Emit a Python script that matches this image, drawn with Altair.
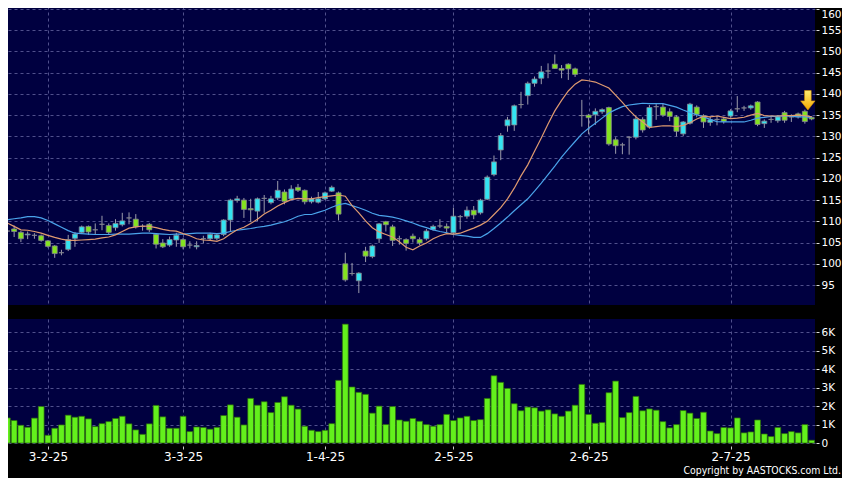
import altair as alt
import pandas as pd

# ---------------- data ----------------
opens = [
    107.7, 108.2, 107.4, 106.8, 106.7, 106.6, 105.4, 104.2, 102.6, 103.4,
    106.0, 107.4, 108.8, 108.0, 109.3, 109.0, 108.5, 109.2, 110.8, 110.5,
    108.8, 109.3, 106.9, 104.9, 104.4, 105.6, 105.7, 104.4, 104.0, 105.9,
    105.9, 106.0, 106.9, 110.3, 114.9, 115.0, 113.0, 112.4, 115.4, 114.4,
    115.5, 116.9, 115.3, 118.0, 117.3, 114.6, 114.5, 115.3, 117.1, 116.7,
    100.0, 97.7, 96.0, 103.0, 101.7, 105.9, 109.9, 108.7, 105.9, 105.7,
    106.5, 105.7, 105.9, 108.1, 108.9, 108.8, 107.3, 111.1, 111.2, 112.6,
    112.0, 115.2, 121.0, 126.8, 132.5, 132.7, 137.5, 139.6, 142.5, 143.7,
    145.4, 147.0, 146.0, 147.0, 145.9, 134.9, 135.0, 135.1, 135.8, 136.8,
    129.2, 128.0, 129.8, 129.8, 134.0, 132.2, 137.0, 136.9, 135.8, 134.6,
    130.6, 133.1, 136.9, 134.9, 133.3, 134.0, 134.1, 134.8, 136.5, 136.7,
    136.7, 138.1, 133.0, 134.0, 133.7, 135.6, 134.6, 135.3, 135.9, 134.5,
]
highs = [
    108.9, 109.0, 107.7, 107.6, 107.2, 106.9, 105.6, 104.4, 103.3, 106.8,
    107.5, 109.0, 109.0, 109.5, 111.3, 109.5, 110.5, 112.0, 112.1, 111.7,
    109.3, 109.6, 107.2, 105.8, 106.4, 107.3, 106.1, 105.3, 105.3, 106.6,
    107.3, 107.0, 110.5, 115.3, 116.0, 115.5, 115.3, 115.6, 116.2, 116.0,
    119.5, 117.5, 118.5, 118.8, 117.5, 115.8, 116.9, 117.0, 118.4, 117.0,
    102.6, 100.2, 98.0, 104.0, 104.5, 109.6, 110.1, 109.2, 106.6, 106.0,
    107.1, 106.2, 108.2, 109.2, 110.5, 109.5, 113.2, 111.5, 113.5, 113.6,
    115.3, 120.8, 125.5, 130.8, 134.6, 137.5, 140.5, 142.9, 144.1, 146.6,
    147.2, 149.3, 146.8, 147.2, 146.2, 138.6, 135.3, 136.6, 136.6, 137.0,
    129.8, 128.5, 130.0, 135.0, 134.5, 137.4, 137.6, 137.7, 136.6, 135.0,
    133.6, 137.9, 137.3, 135.2, 134.7, 134.8, 134.6, 136.4, 139.5, 137.2,
    137.5, 138.3, 134.0, 134.6, 135.0, 136.0, 135.2, 135.6, 136.3, 134.8,
]
lows = [
    106.3, 106.3, 105.1, 105.8, 105.9, 105.2, 103.8, 101.4, 102.0, 103.0,
    104.0, 107.0, 106.8, 106.9, 107.9, 107.0, 107.8, 108.8, 109.3, 108.3,
    107.8, 107.5, 103.6, 103.7, 104.0, 104.0, 103.4, 103.6, 103.4, 104.8,
    105.5, 105.5, 106.5, 107.7, 114.4, 110.8, 109.8, 110.0, 112.0, 114.0,
    115.0, 114.0, 115.0, 116.9, 114.0, 114.2, 114.2, 115.0, 116.9, 110.2,
    95.8, 97.2, 93.1, 100.4, 101.3, 104.9, 107.6, 104.2, 104.5, 103.1,
    105.0, 104.4, 105.5, 107.8, 108.4, 107.3, 107.0, 108.1, 110.6, 110.5,
    111.6, 115.0, 120.6, 124.4, 131.1, 131.3, 136.6, 137.5, 141.7, 142.3,
    143.7, 145.9, 143.7, 143.3, 144.0, 132.3, 130.5, 132.7, 135.3, 127.8,
    125.9, 125.8, 125.7, 129.3, 130.9, 131.8, 133.9, 134.6, 133.6, 130.0,
    130.1, 132.8, 134.5, 132.0, 132.5, 132.6, 133.0, 134.4, 135.7, 136.0,
    136.3, 132.4, 132.0, 133.2, 133.2, 133.2, 133.4, 134.2, 133.0, 133.8,
]
closes = [
    107.7, 107.6, 105.9, 107.0, 106.7, 105.5, 104.1, 102.4, 102.6, 105.7,
    107.0, 108.7, 107.5, 108.0, 109.3, 107.4, 109.5, 110.1, 110.8, 108.7,
    108.8, 108.0, 104.6, 104.0, 105.7, 106.7, 104.0, 104.4, 104.3, 105.9,
    106.9, 106.8, 110.3, 115.0, 115.3, 112.8, 112.7, 115.3, 115.4, 115.3,
    117.3, 114.7, 117.6, 117.3, 114.6, 115.3, 115.3, 116.7, 118.0, 111.7,
    96.2, 97.7, 97.8, 101.8, 104.2, 109.4, 109.2, 105.5, 105.9, 104.8,
    105.9, 104.9, 107.7, 108.8, 108.9, 108.4, 111.2, 111.1, 112.6, 111.5,
    115.0, 120.4, 124.0, 130.2, 133.9, 137.2, 137.5, 142.5, 143.5, 145.2,
    145.4, 146.0, 145.6, 145.9, 144.6, 134.9, 134.4, 135.9, 136.3, 128.2,
    127.8, 128.0, 129.8, 134.1, 131.5, 136.8, 137.0, 135.0, 134.7, 131.2,
    133.4, 137.6, 135.2, 133.4, 133.9, 134.0, 133.5, 136.0, 136.5, 136.7,
    137.2, 132.8, 133.6, 134.0, 134.6, 133.8, 134.6, 134.6, 133.5, 134.1,
]
volumes = [  # thousands
    1.36, 1.22, 0.96, 0.85, 1.35, 1.98, 0.42, 0.80, 0.98, 1.51,
    1.40, 1.45, 1.31, 0.89, 1.05, 1.16, 1.33, 1.45, 1.04, 0.71,
    0.47, 1.04, 2.04, 1.42, 0.80, 0.80, 1.45, 0.62, 0.87, 0.84,
    0.75, 0.85, 1.49, 2.07, 1.40, 0.98, 2.42, 2.05, 2.24, 1.65,
    2.20, 2.51, 2.05, 1.84, 0.91, 0.69, 0.62, 0.69, 1.05, 3.40,
    6.45, 3.04, 2.75, 2.64, 1.62, 2.00, 1.00, 1.98, 1.25, 1.18,
    1.33, 1.18, 1.00, 0.91, 1.00, 1.55, 1.22, 1.36, 1.45, 1.22,
    1.27, 2.42, 3.65, 3.29, 2.96, 2.13, 1.75, 1.95, 1.91, 1.73,
    1.80, 1.58, 1.45, 1.73, 2.05, 3.18, 1.55, 1.07, 1.11, 2.73,
    3.36, 1.38, 1.65, 2.53, 1.75, 1.85, 1.78, 1.16, 0.82, 1.00,
    1.76, 1.62, 1.33, 1.67, 0.65, 0.51, 0.84, 0.82, 1.36, 0.55,
    0.60, 1.25, 0.49, 0.35, 0.84, 0.51, 0.62, 0.55, 1.00, 0.15,
]
ma_fast = [  # orange line
    109.6, 108.8, 108.0, 107.9, 107.6, 107.2, 106.7, 106.2, 105.8, 105.5,
    105.5, 105.6, 105.7, 105.8, 106.1, 106.3, 106.8, 107.6, 108.4, 108.7,
    108.9, 108.8, 108.5, 108.1, 107.8, 107.7, 107.1, 106.6, 105.9, 105.6,
    105.5, 105.3, 105.9, 107.0, 108.0, 108.6, 109.5, 110.5, 111.7, 112.6,
    113.6, 114.4, 115.1, 115.4, 115.3, 115.3, 115.6, 115.8, 116.0, 116.2,
    115.9, 113.7, 112.0, 110.1, 108.5, 107.5, 106.9, 106.3, 105.2, 103.9,
    103.3, 104.2, 104.9, 105.9, 106.6, 107.1, 107.0, 107.2, 107.8, 108.4,
    109.1, 110.0, 111.6, 113.2, 115.3, 117.8, 120.7, 123.3, 126.5, 129.6,
    132.9, 136.0, 138.5, 140.7, 142.3, 143.3, 143.1, 142.8, 142.1, 141.4,
    139.7, 138.0, 136.2, 134.6, 133.4, 132.1, 132.3, 132.5, 132.5, 132.3,
    132.6, 133.2, 134.1, 134.7, 134.6, 134.8, 134.5, 134.2, 134.3, 134.5,
    135.0, 135.4, 134.9, 134.8, 134.8, 134.9, 134.9, 135.0, 134.9, 134.6,
]
ma_slow = [  # blue line
    110.4, 110.6, 110.8, 111.1, 111.1, 110.8, 110.2, 109.4, 108.6, 107.8,
    107.2, 107.1, 107.0, 106.9, 106.9, 106.9, 107.0, 107.0, 107.0, 107.1,
    107.2, 107.2, 107.1, 107.0, 106.9, 107.0, 107.0, 107.1, 107.2, 107.2,
    107.2, 107.1, 107.2, 107.6, 107.9, 108.1, 108.3, 108.6, 108.8, 109.1,
    109.5, 109.9, 110.5, 111.2, 111.6, 111.6, 112.1, 112.6, 113.3, 113.9,
    114.2, 113.7, 113.2, 112.6, 111.9, 111.4, 111.2, 111.0, 110.6, 110.1,
    109.6, 109.0, 108.5, 108.0, 107.6, 107.3, 106.9, 106.7, 106.5, 106.2,
    106.2, 107.1, 108.3, 109.6, 111.0, 112.5, 113.9, 115.3, 117.1, 119.0,
    121.0, 123.0, 125.1, 127.0, 128.8, 130.6, 131.9, 133.1, 134.3, 135.5,
    136.3, 137.0, 137.4, 137.6, 137.8, 137.7, 137.7, 137.7, 137.3, 136.9,
    136.2, 135.6, 135.1, 134.6, 134.0, 133.5, 133.4, 133.4, 133.4, 133.4,
    133.8, 134.3, 134.5, 134.7, 134.7, 134.9, 134.7, 134.6, 134.6, 134.5,
]
tick_index = [6, 26, 47, 66, 86, 107]
tick_labels = ["3-2-25", "3-3-25", "1-4-25", "2-5-25", "2-6-25", "2-7-25"]
price_ticks = [95, 100, 105, 110, 115, 120, 125, 130, 135, 140, 145, 150, 155, 160]
vol_ticks = [0, 1, 2, 3, 4, 5, 6]
marker_index = [118]
marker_price = [138.5]
copyright_text = ["Copyright by AASTOCKS.com Ltd."]

# ---------------- tables ----------------
n = len(closes)
dirs = ["up" if c > o else ("down" if c < o else "flat") for o, c in zip(opens, closes)]
df = pd.DataFrame({
    "i": list(range(n)), "open": opens, "high": highs, "low": lows,
    "close": closes, "vol": volumes, "ma_fast": ma_fast, "ma_slow": ma_slow,
    "dir": dirs,
})
marker_df = pd.DataFrame({"i": marker_index, "p": marker_price})
copy_df = pd.DataFrame({"t": copyright_text})

label_expr = " : ".join(
    f"datum.value == {v} ? '{l}'" for v, l in zip(tick_index, tick_labels)
) + " : ''"

GRID = "#50508c"
FONT = "DejaVu Sans"
W = 811
H_MAIN = 299
H_VOL = 124

xs = alt.Scale(domain=[-0.5, n - 0.5], nice=False, zero=False, padding=0)
x_main_axis = alt.Axis(values=tick_index, labels=False, ticks=False, domain=False,
                       grid=True, gridColor=GRID, gridDash=[3, 3], title=None)
ys = alt.Scale(domain=[90.29, 160.71], nice=False, zero=False, padding=0)
y_main_axis = alt.Axis(orient="right", values=price_ticks, offset=1, tickSize=3,
                       labelPadding=2, domain=False, grid=True, gridColor=GRID,
                       gridDash=[3, 3], tickColor="#dddddd", labelColor="white",
                       labelFont=FONT, labelFontSize=10.5, labelFlush=4,
                       labelFlushOffset=0, title=None)

X = alt.X("i:Q", scale=xs, axis=x_main_axis)


def Y(field):
    return alt.Y(field, type="quantitative", scale=ys, axis=y_main_axis)


base = alt.Chart(df)
wicks = base.mark_rule(color="#9c9cab", strokeWidth=1).encode(
    x=X, y=Y("low"), y2="high")
bodies = base.mark_bar(size=5, stroke="#85858f", strokeWidth=0.8).encode(
    x=X, y=Y("open"), y2="close",
    color=alt.Color("dir:N", scale=alt.Scale(domain=["up", "down", "flat"],
                    range=["#33e4f2", "#84e31f", "#a8a8b0"]), legend=None))
line_fast = base.mark_line(color="#df9a70", strokeWidth=1.2).encode(x=X, y=Y("ma_fast"))
line_slow = base.mark_line(color="#4aa3ea", strokeWidth=1.2).encode(x=X, y=Y("ma_slow"))
arrow_path = "M-0.34,-1L0.34,-1L0.34,0.06L0.74,0.06L0,1L-0.74,0.06L-0.34,0.06Z"
arrow = alt.Chart(marker_df).mark_point(
    shape=arrow_path, size=380, filled=True, opacity=1, xOffset=3,
    fill=alt.Gradient(gradient="linear", x1=0, y1=0, x2=0, y2=1,
                      stops=[alt.GradientStop(color="#ffec70", offset=0),
                             alt.GradientStop(color="#f2a800", offset=1)]),
    stroke="#d89000", strokeWidth=0.6,
).encode(x=X, y=Y("p"))

main = alt.layer(wicks, bodies, line_slow, line_fast, arrow).properties(
    width=W, height=H_MAIN)

vys = alt.Scale(domain=[0, 6.73], nice=False, zero=True, padding=0)
v_axis = alt.Axis(orient="right", values=vol_ticks,
                  labelExpr="datum.value == 0 ? '0' : datum.value + 'K'",
                  offset=1, tickSize=3, labelPadding=2, domain=False, grid=True,
                  gridColor=GRID, gridDash=[3, 3], tickColor="#dddddd",
                  labelColor="white", labelFont=FONT, labelFontSize=10.5, title=None)
xv_axis = alt.Axis(values=tick_index, labelExpr=label_expr, grid=True, gridColor=GRID,
                   gridDash=[3, 3], ticks=True, tickSize=3, offset=3, labelPadding=2,
                   domain=False, tickColor="#cccccc", labelColor="white",
                   labelFont=FONT, labelFontSize=12, labelFlush=False,
                   labelOverlap=False, title=None)
vol_bars = alt.Chart(df).mark_bar(size=5.8, fill="#63f01c", stroke="#2c6c0c",
                                  strokeWidth=0.7).encode(
    x=alt.X("i:Q", scale=xs, axis=xv_axis),
    y=alt.Y("vol:Q", scale=vys, axis=v_axis))
copy_txt = alt.Chart(copy_df).mark_text(
    align="right", baseline="middle", color="white", fontSize=10.4,
    font="DejaVu Sans Condensed, DejaVu Sans").encode(
    text="t:N", x=alt.value(W + 26), y=alt.value(152))
volume = alt.layer(vol_bars, copy_txt).properties(width=W, height=H_VOL)

chart = alt.vconcat(main, volume, spacing=14).properties(
    background="#000000",
    padding={"left": -4, "top": -2, "right": 0, "bottom": 1},
).configure_view(fill="#000040", strokeWidth=0)

chart.save("out.html", embed_options={"renderer": "svg", "actions": False})
